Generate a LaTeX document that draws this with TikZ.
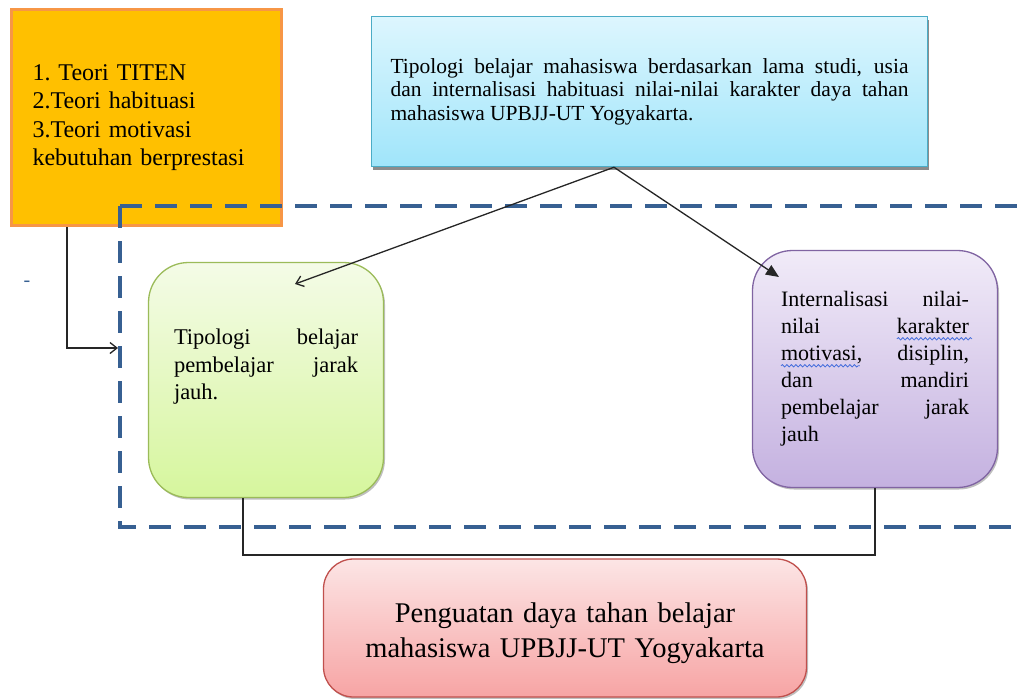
\documentclass[tikz,border=0pt]{standalone}
\usepackage{fontspec}
\setmainfont{Liberation Serif}
\usetikzlibrary{positioning, arrows.meta, shadows, decorations.pathmorphing}

\definecolor{teorifill}{RGB}{255,192,0}
\definecolor{teoridraw}{RGB}{247,150,70}
\definecolor{framecol}{RGB}{55,96,146}
\definecolor{topdraw}{RGB}{75,172,198}
\definecolor{toptop}{RGB}{221,246,254}
\definecolor{topbot}{RGB}{160,229,250}
\definecolor{grndraw}{RGB}{155,187,89}
\definecolor{grntop}{RGB}{244,251,231}
\definecolor{grnbot}{RGB}{214,246,157}
\definecolor{purdraw}{RGB}{128,100,162}
\definecolor{purtop}{RGB}{241,235,248}
\definecolor{purbot}{RGB}{196,177,224}
\definecolor{pnkdraw}{RGB}{192,80,77}
\definecolor{pnktop}{RGB}{252,229,229}
\definecolor{pnkbot}{RGB}{247,164,164}
\definecolor{squigcol}{RGB}{70,110,220}

\newsavebox{\squigbox}
\newlength{\squiglen}
\newcommand{\squig}[1]{\sbox{\squigbox}{#1}\setlength{\squiglen}{\wd\squigbox}\rlap{\tikz[overlay, baseline=0pt]
  \draw[squigcol, line width=0.8pt, sharp corners, decorate, decoration={snake, amplitude=1.2pt, segment length=4.5pt}]
  (0pt,-5pt) -- (\squiglen+3pt,-5pt);}\usebox{\squigbox}}

\tikzset{
  softshadow/.style={drop shadow={shadow xshift=1.5pt, shadow yshift=-2pt, opacity=0.25, fill=black}},
  teoribox/.style={draw=teoridraw, line width=3.5pt, fill=teorifill, minimum width=270, minimum height=216,
    inner sep=0pt, text width=228, align=left, font=\fontsize{24}{28.5}\selectfont},
  topbox/.style={draw=topdraw, line width=1.5pt, top color=toptop, bottom color=topbot, minimum width=556,
    minimum height=150, inner sep=0pt, text width=518, align=justify,
    drop shadow={shadow xshift=1pt, shadow yshift=-3pt, opacity=0.45, fill=black},
    font=\fontsize{21.5}{23.5}\selectfont\sloppy},
  roundbox/.style={line width=1.3pt, rounded corners=40, inner sep=0pt, align=justify, softshadow,
    font=\fontsize{22.5}{27.5}\selectfont\sloppy},
  greenbox/.style={roundbox, draw=grndraw, top color=grntop, bottom color=grnbot, minimum width=235,
    minimum height=235, text width=184, text depth=86pt},
  purplebox/.style={roundbox, draw=purdraw, top color=purtop, bottom color=purbot, minimum width=245,
    minimum height=237, text width=188, font=\fontsize{22}{27}\selectfont\sloppy},
  pinkbox/.style={roundbox, rounded corners=30, draw=pnkdraw, top color=pnktop, bottom color=pnkbot,
    minimum width=483, minimum height=138, text width=470, text height=29.5pt, align=center,
    font=\fontsize{28.5}{35}\selectfont},
  frame/.style={draw=framecol, line width=4pt, dash pattern=on 22pt off 13pt},
  conn/.style={draw=black!85, line width=1.3pt}
}

\begin{document}
\begin{tikzpicture}[x=1pt, y=-1pt]
\useasboundingbox (0,0) rectangle (1021,699);

\node[teoribox] (teori) at (146.5,117.5)
  {1.\ Teori TITEN\\2.Teori habituasi\\3.Teori motivasi\\kebutuhan berprestasi};

\draw[frame] (120,206) -- (1030,206);
\draw[frame] (120,206) -- (120,527) -- (1030,527);
\node[text=framecol, font=\fontsize{20}{20}\selectfont] (stray) at (27,284) {-};

\node[topbox] (tipologi) at (649.5,91.5)
  {Tipologi belajar mahasiswa berdasarkan lama studi, usia\linebreak
   dan internalisasi habituasi nilai-nilai karakter daya tahan\linebreak
   mahasiswa UPBJJ-UT Yogyakarta.};
\node[greenbox] (jarak) at (266,380)
  {Tipologi belajar\linebreak pembelajar jarak\linebreak jauh.};
\node[purplebox] (nilai) at (875,369)
  {Internalisasi nilai-\linebreak nilai \squig{karakter}\linebreak \squig{motivasi}, disiplin,\linebreak
   dan mandiri\linebreak pembelajar jarak\linebreak jauh};
\node[pinkbox] (hasil) at (565,628)
  {Penguatan daya tahan belajar\\mahasiswa UPBJJ-UT Yogyakarta};

\coordinate (src) at ([xshift=-35.5pt]tipologi.south);
\coordinate (tipA) at (295,284);
\coordinate (tipB) at (779,277);
\coordinate (frameL) at (118,348);
\coordinate (join) at (nilai.south |- 0,555);

\draw[conn, -{Straight Barb[length=7pt, width=11pt]}] ([xshift=-79.5pt]teori.south) |- (frameL);
\draw[conn, -{Straight Barb[length=7pt, width=11pt]}] (src) -- (tipA);
\draw[conn, -{Triangle[length=13pt, width=11pt]}] (src) -- (tipB);
\draw[conn] ([xshift=-23pt]jarak.south) |- (join) -- (nilai.south);
\end{tikzpicture}
\end{document}
